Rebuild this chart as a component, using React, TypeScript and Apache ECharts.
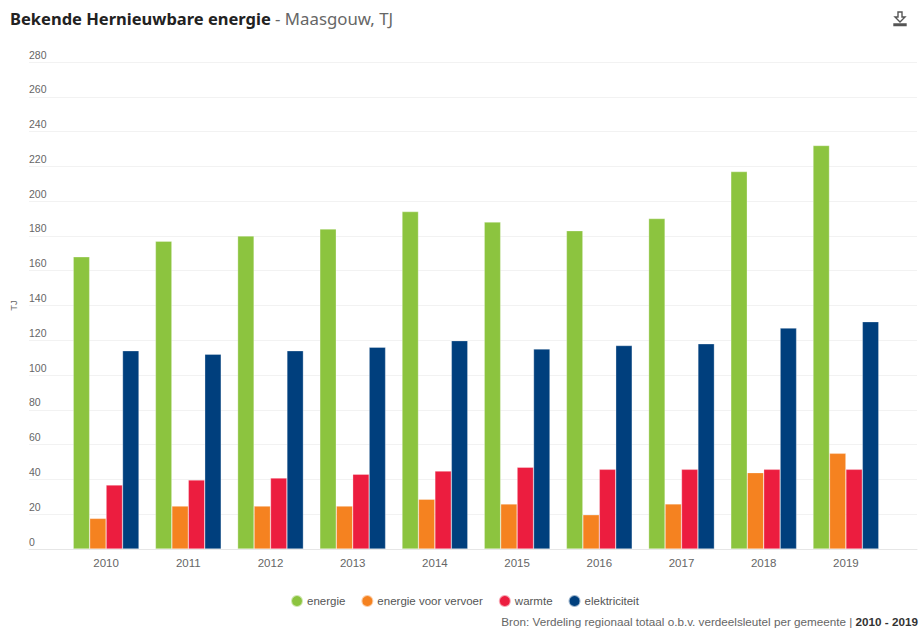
import React, { useEffect, useRef } from "react";
import * as echarts from "echarts";

const years = ["2010", "2011", "2012", "2013", "2014", "2015", "2016", "2017", "2018", "2019"];
const energie = [168, 177, 180, 184, 194, 188, 183, 190, 217, 232];
const vervoer = [17.6, 24.7, 24.7, 24.7, 28.6, 25.9, 19.7, 25.9, 43.9, 55];
const warmte = [36.8, 39.7, 40.8, 43, 44.8, 47, 45.8, 45.8, 45.8, 45.8];
const elektriciteit = [114, 112, 114, 116, 119.8, 115, 117, 118, 127, 130.7];

const seriesNames = ["energie", "energie voor vervoer", "warmte", "elektriciteit"];
const colors = ["#8cc43f", "#f58220", "#ec1d3f", "#003f7d"];

const iconPath =
  "M4 0 L8 0 L8 5 L11 5 L6 10 L1 5 L4 5 Z M0 12 L12 12 L12 13.5 L0 13.5 Z";
echarts.graphic.registerShape("dlicon", echarts.graphic.extendPath(iconPath, {}) as any);

export default function App() {
  const ref = useRef<HTMLDivElement>(null);
  useEffect(() => {
    document.body.style.margin = "0";
    const chart = echarts.init(ref.current!, null, { renderer: "svg" });
    const font = "Liberation Sans, Arial, sans-serif";
    const data = [energie, vervoer, warmte, elektriciteit];
    chart.setOption({
      animation: false,
      backgroundColor: "#fff",
      title: {
        left: 10,
        top: 10,
        padding: 0,
        text: "{b|Bekende Hernieuwbare energie}{n| - Maasgouw, TJ}",
        textStyle: {
          rich: {
            b: { fontFamily: "Noto Sans, sans-serif", fontWeight: "bold", fontSize: 16.5, color: "#222" },
            n: { fontFamily: "Noto Sans, sans-serif", fontWeight: "normal", fontSize: 16.8, color: "#666" },
          },
        },
      },
      legend: {
        left: 290,
        top: 594,
        padding: 0,
        icon: "circle",
        itemWidth: 12,
        itemHeight: 12,
        itemGap: 15,
        data: seriesNames,
        textStyle: { fontFamily: font, fontSize: 11.5, color: "#555", padding: [0, 0, 0, -1] },
      },
      grid: [
        { left: 65, right: 36, top: 62, bottom: 81 },
        { left: 24, right: 6, top: 62, bottom: 81 },
      ],
      xAxis: [
        {
          type: "category",
          gridIndex: 0,
          data: years,
          axisLine: { show: false },
          axisTick: { show: false },
          axisLabel: { color: "#666", fontFamily: font, fontSize: 11.5, margin: 8 },
        },
        {
          type: "value",
          gridIndex: 1,
          min: 0,
          max: 1,
          axisLine: { show: true, lineStyle: { color: "#e6e6e6" } },
          axisTick: { show: false },
          axisLabel: { show: false },
          splitLine: { show: false },
        },
      ],
      yAxis: [
        {
          type: "value",
          gridIndex: 0,
          min: 0,
          max: 280,
          interval: 20,
          axisLabel: { show: false },
          axisLine: { show: false },
          axisTick: { show: false },
          splitLine: { show: false },
        },
        {
          type: "value",
          gridIndex: 1,
          min: 0,
          max: 280,
          interval: 20,
          name: "TJ",
          nameLocation: "middle",
          nameRotate: 90,
          nameGap: 11,
          nameTextStyle: { color: "#666", fontFamily: font, fontSize: 9.5 },
          axisLine: { show: false },
          axisTick: { show: false },
          axisLabel: {
            inside: true,
            margin: 0,
            verticalAlign: "bottom",
            padding: [0, 0, 2, 0],
            color: "#666",
            fontFamily: font,
            fontSize: 10.5,
          },
          splitLine: { lineStyle: { color: "#f2f2f2" } },
        },
      ],
      series: seriesNames.map((n, i) => ({
        name: n,
        type: "bar",
        xAxisIndex: 0,
        yAxisIndex: 0,
        data: data[i],
        barGap: "0%",
        barCategoryGap: "20%",
        itemStyle: { color: colors[i], borderColor: "rgba(255,255,255,0.6)", borderWidth: 0.5 },
        z: 3,
      })),
      graphic: [
        {
          type: "dlicon",
          x: 894,
          y: 12,
          scaleX: 1,
          scaleY: 1,
          style: { fill: "none", stroke: "#555", lineWidth: 1.4 },
        },
        {
          type: "text",
          right: 5,
          top: 615,
          style: {
            text: "{n|Bron: Verdeling regionaal totaal o.b.v. verdeelsleutel per gemeente | }{b|2010 - 2019}",
            rich: {
              n: { fontFamily: font, fontSize: 11.7, fill: "#666" },
              b: { fontFamily: font, fontSize: 11.7, fontWeight: "bold", fill: "#333" },
            },
          },
        },
      ],
    });
    return () => chart.dispose();
  }, []);
  return <div ref={ref} style={{ width: 923, height: 630 }} />;
}
